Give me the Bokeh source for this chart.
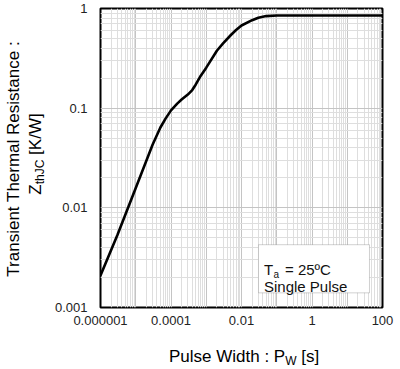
import math
from bokeh.plotting import figure
from bokeh.models import FixedTicker, Label, BoxAnnotation, Range1d, CustomJSTickFormatter, Div
from bokeh.layouts import row, column
from bokeh.embed import file_html
from bokeh.resources import INLINE

# ---- data ----
pulse_width = [1e-6, 3e-6, 1e-5, 3e-5, 5e-5, 7e-5, 1e-4, 1.5e-4, 2e-4, 3e-4,
               4e-4, 5e-4, 7e-4, 1e-3, 2e-3, 3e-3, 5e-3, 7e-3, 1e-2, 2e-2, 3e-2,
               5e-2, 0.1, 1, 10, 100]
zth_jc = [0.0021, 0.0053, 0.0158, 0.043, 0.064, 0.0785, 0.095, 0.111, 0.122, 0.137,
          0.152, 0.172, 0.212, 0.255, 0.377, 0.447, 0.542, 0.608, 0.675, 0.763, 0.809,
          0.839, 0.85, 0.85, 0.85, 0.85]

x_ticks = [1e-6, 1e-4, 1e-2, 1, 100]
x_tick_labels = ["0.000001", "0.0001", "0.01", "1", "100"]
y_ticks = [0.001, 0.01, 0.1, 1]
y_tick_labels = ["0.001", "0.01", "0.1", "1"]

FONT = "Liberation Sans"

p = figure(width=354, height=335, x_axis_type="log", y_axis_type="log",
           x_range=Range1d(1e-6, 100), y_range=Range1d(1e-3, 1),
           output_backend="svg", toolbar_location=None,
           min_border_left=54, min_border_right=18, min_border_top=8, min_border_bottom=28)
p.background_fill_color = "white"
p.border_fill_color = "white"
p.outline_line_color = "black"
p.outline_line_width = 2

fmt_code = """
for (let i = 0; i < tvals.length; i++) {
  if (Math.abs(Math.log10(tvals[i]) - Math.log10(tick)) < 1e-6) return tlabels[i];
}
return "";
"""
p.xaxis.ticker = FixedTicker(ticks=x_ticks)
p.xaxis.formatter = CustomJSTickFormatter(args=dict(tvals=x_ticks, tlabels=x_tick_labels), code=fmt_code)
p.yaxis.ticker = FixedTicker(ticks=y_ticks)
p.yaxis.formatter = CustomJSTickFormatter(args=dict(tvals=y_ticks, tlabels=y_tick_labels), code=fmt_code)

for ax in (p.xaxis, p.yaxis):
    ax.axis_line_color = None
    ax.major_tick_line_color = None
    ax.minor_tick_line_color = None
    ax.major_tick_out = 0
    ax.major_tick_in = 0
    ax.minor_tick_out = 0
    ax.minor_tick_in = 0
    ax.major_label_text_font = FONT
    ax.major_label_text_font_size = "13px"
    ax.major_label_text_color = "#222222"
p.xaxis.major_label_standoff = 8
p.yaxis.major_label_standoff = 13

# grid: every decade plus 2..9 minors
x_dec = [10.0 ** k for k in range(-6, 3)]
x_min = [m * 10.0 ** k for k in range(-6, 2) for m in range(2, 10)]
y_dec = [10.0 ** k for k in range(-3, 1)]
y_min = [m * 10.0 ** k for k in range(-3, 0) for m in range(2, 10)]
p.xgrid.ticker = FixedTicker(ticks=x_dec, minor_ticks=x_min)
p.ygrid.ticker = FixedTicker(ticks=y_dec, minor_ticks=y_min)
for g in (p.xgrid, p.ygrid):
    g.grid_line_color = "#c4c4c4"
    g.grid_line_width = 1
    g.minor_grid_line_color = "#dedede"
    g.minor_grid_line_width = 1

p.line(pulse_width, zth_jc, line_color="black", line_width=2.6, line_join="round")

# annotation box
p.add_layout(BoxAnnotation(left=10 ** -1.518, right=10 ** 1.631, bottom=10 ** -2.853, top=10 ** -2.37,
                           fill_color="white", fill_alpha=1.0, line_color="#666666", line_width=1))

def lab(x, y, text, size, xo=0, yo=0):
    p.add_layout(Label(x=x, y=y, text=text, x_offset=xo, y_offset=yo,
                       text_font=FONT, text_font_size=size, text_color="#111111",
                       text_align="left", text_baseline="alphabetic"))

tx = 10 ** -1.362
lab(tx, 10 ** -2.62, "T", "15px")
lab(tx, 10 ** -2.62, "a", "10px", xo=9.4, yo=-4.5)
lab(tx, 10 ** -2.62, "= 25ºC", "15px", xo=21.0)
lab(tx, 10 ** -2.79, "Single Pulse", "15px")

TXT = "font-family:'Liberation Sans',Arial,sans-serif;color:#111111;white-space:nowrap;"
SUB = "font-size:12px;vertical-align:-3px;"

ytitle = Div(width=46, height=369, margin=0, text=(
    "<div style='position:relative;width:46px;height:369px;'>"
    "<div style='position:absolute;left:-124.9px;top:137px;width:300px;height:44px;"
    "transform:rotate(-90deg);font-size:17px;line-height:22px;text-align:center;" + TXT + "'>"
    "<div>Transient Thermal Resistance :</div>"
    "<div style='position:relative;left:5px;'>Z<span style='" + SUB + "'>thJC</span> [K/W]</div>"
    "</div></div>"))

xtitle = Div(width=354, height=34, margin=0, text=(
    "<div style='position:relative;width:354px;height:34px;'>"
    "<div style='position:absolute;left:123px;top:12px;font-size:17px;line-height:20px;" + TXT + "'>"
    "Pulse Width : P<span style='" + SUB + "'>W</span> [s]</div></div>"))

layout = row(ytitle, column(p, xtitle))

open("out.html", "w").write(file_html(layout, INLINE))
